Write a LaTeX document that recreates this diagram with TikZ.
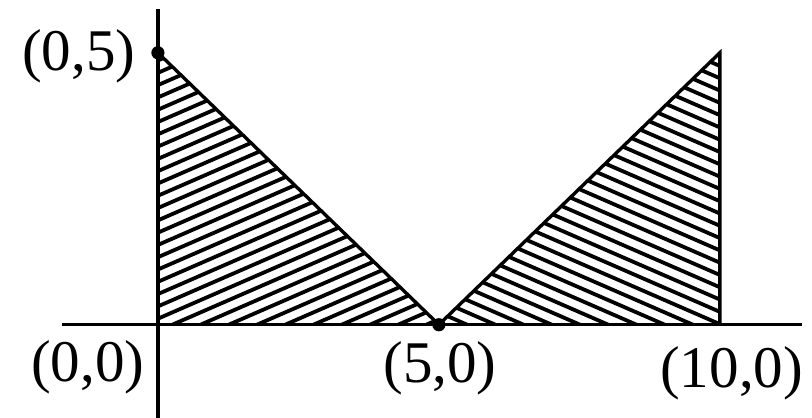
\documentclass[tikz,border=0pt]{standalone}
\usepackage{fontspec}
\setmainfont{Liberation Serif}
\usetikzlibrary{positioning}
\tikzset{
  axisline/.style={line width=2.4pt},
  edge/.style={line width=2.4pt,line join=miter},
  hatch/.style={line width=2.7pt},
  dotpt/.style={circle,fill,inner sep=0pt,minimum size=3.3mm},
  lbl/.style={inner sep=0pt,font=\fontsize{42}{48}\selectfont},
}
\begin{document}
\begin{tikzpicture}[x=1.405cm,y=1.36cm]
  \useasboundingbox (-2.81,-1.71) rectangle (11.64,5.97);
  % corner points
  \coordinate (O) at (0,0);
  \coordinate (A) at (0,5);
  \coordinate (B) at (5,0);
  \coordinate (C) at (10,0);
  \coordinate (D) at (10,5);
  % axis ends
  \coordinate (xl) at (-1.71,0);
  \coordinate (xr) at (11.46,0);
  \coordinate (yb) at (0,-1.71);
  \coordinate (yt) at (0,5.8);
  % hatching
  \begin{scope}
    \clip (O) -- (A) -- (B) -- cycle;
    \foreach \i in {0,...,34} \draw[hatch] (-0.5,{-2.6+\i*0.226}) -- ++(6,2.7);
  \end{scope}
  \begin{scope}
    \clip (B) -- (D) -- (C) -- cycle;
    \foreach \i in {0,...,35} \draw[hatch] (4.5,{0.0+\i*0.226}) -- ++(6,-2.7);
  \end{scope}
  % outlines
  \draw[edge] (A) -- (B);
  \draw[edge] (B) -- (D) -- (C);
  \draw[axisline] (xl) -- (xr);
  \draw[axisline] (yb) -- (yt);
  \node[dotpt] (pA) at (A) {};
  \node[dotpt] (pB) at (B) {};
  % labels
  \node[lbl] (lA) at (-1.41,4.94) {(0,5)};
  \node[lbl] (lO) at (-1.25,-0.78) {(0,0)};
  \node[lbl] (lB) at (5.02,-0.80) {(5,0)};
  \node[lbl] (lC) at (10.21,-0.90) {(10,0)};
\end{tikzpicture}
\end{document}
